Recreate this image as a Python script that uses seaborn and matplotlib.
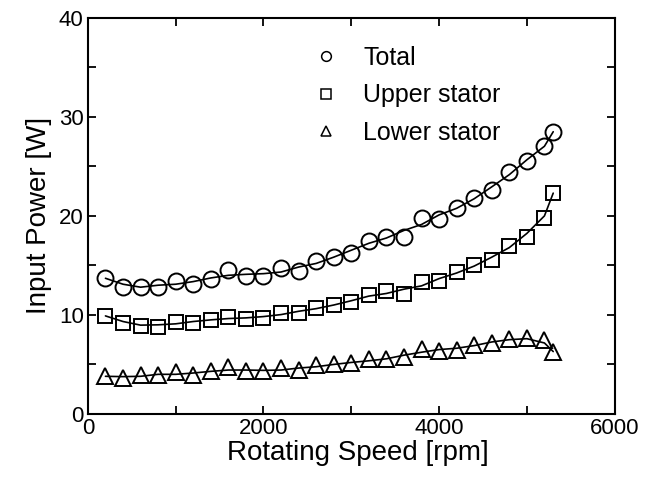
import numpy as np
import pandas as pd
import matplotlib.pyplot as plt
import seaborn as sns
from matplotlib.lines import Line2D
from matplotlib.ticker import MultipleLocator

speed = [200, 400, 600, 800, 1000, 1200, 1400, 1600, 1800, 2000, 2200, 2400, 2600,
         2800, 3000, 3200, 3400, 3600, 3800, 4000, 4200, 4400, 4600, 4800, 5000, 5200, 5300]
total = [13.7, 12.8, 12.8, 12.8, 13.4, 13.1, 13.6, 14.5, 13.9, 13.9, 14.7, 14.4, 15.4,
         15.8, 16.3, 17.5, 17.9, 17.9, 19.8, 19.7, 20.8, 21.8, 22.6, 24.4, 25.5, 27.1, 28.5]
upper = [9.9, 9.2, 8.9, 8.8, 9.3, 9.2, 9.5, 9.8, 9.6, 9.7, 10.2, 10.2, 10.7,
         11.0, 11.3, 12.0, 12.4, 12.1, 13.3, 13.4, 14.3, 15.0, 15.5, 17.0, 17.9, 19.8, 22.3]
lower = [3.8, 3.6, 3.9, 3.9, 4.2, 3.9, 4.3, 4.7, 4.3, 4.3, 4.6, 4.4, 4.9,
         5.0, 5.1, 5.5, 5.5, 5.7, 6.6, 6.4, 6.5, 7.0, 7.2, 7.6, 7.7, 7.5, 6.3]
labels = ["Total", "Upper stator", "Lower stator"]
markers = ["o", "s", "^"]

df = pd.DataFrame({"speed": speed, "Total": total, "Upper stator": upper, "Lower stator": lower})

sns.set_style("ticks")
plt.rcParams['font.family'] = ['Liberation Sans', 'DejaVu Sans']
plt.rcParams['text.color'] = 'black'
plt.rcParams['axes.labelcolor'] = 'black'
plt.rcParams['xtick.color'] = 'black'
plt.rcParams['ytick.color'] = 'black'
plt.rcParams['axes.edgecolor'] = 'black'

fig = plt.figure(figsize=(6.56, 4.83), dpi=100)
ax = fig.add_axes([0.134, 0.143, 0.803, 0.820])

sizes = {"o": 11.5, "s": 10.5, "^": 11.5}
for lab, m in zip(labels, markers):
    # smoothed trend line through the points, ends kept on the measured values
    smooth = df[lab].rolling(3, center=True, min_periods=1).mean()
    smooth.iloc[0] = df[lab].iloc[0]
    smooth.iloc[-1] = df[lab].iloc[-1]
    sns.lineplot(x=df["speed"], y=smooth, ax=ax, color="black", linewidth=1.2)
    sns.lineplot(x=df["speed"], y=df[lab], ax=ax, linestyle="", marker=m,
                 markersize=sizes[m], markerfacecolor="none", markeredgecolor="black",
                 markeredgewidth=1.4, color="black")

ax.set_xlim(0, 6000)
ax.set_ylim(0, 40)
ax.xaxis.set_major_locator(MultipleLocator(2000))
ax.xaxis.set_minor_locator(MultipleLocator(1000))
ax.yaxis.set_major_locator(MultipleLocator(10))
ax.yaxis.set_minor_locator(MultipleLocator(5))
ax.tick_params(which="both", direction="in", top=True, right=True, length=6, width=1.3,
               labelsize=16, pad=3)
for s in ax.spines.values():
    s.set_linewidth(1.5)

ax.set_xlabel("Rotating Speed [rpm]", fontsize=20, labelpad=0)
ax.xaxis.set_label_coords(0.513, -0.065)
ax.set_ylabel("Input Power [W]", fontsize=20, labelpad=5)

handles = [Line2D([], [], linestyle="", marker=m, markersize=7, markerfacecolor="none",
                  markeredgecolor="black", markeredgewidth=1.1) for m in markers]
ax.legend(handles, labels, loc="upper left", bbox_to_anchor=(0.385, 0.987), frameon=False,
          fontsize=18, handletextpad=1.0, labelspacing=0.55, handlelength=1.0)

fig.savefig("out.png", dpi=100)
